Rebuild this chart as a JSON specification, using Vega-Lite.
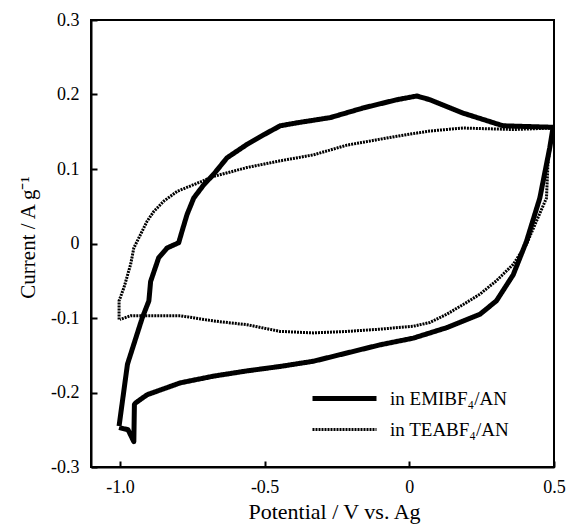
{
  "$schema": "https://vega.github.io/schema/vega-lite/v6.json",
  "width": 463,
  "height": 447,
  "autosize": {"type": "none"},
  "padding": {"left": 91, "top": 20, "right": 12, "bottom": 58},
  "background": "white",
  "config": {
    "view": {"stroke": "black", "strokeWidth": 2},
    "font": "Liberation Serif",
    "axis": {"grid": false, "domainColor": "black", "domainWidth": 2, "tickColor": "black", "tickWidth": 2, "labelColor": "black", "titleColor": "black", "labelFont": "Liberation Serif", "titleFont": "Liberation Serif", "titleFontWeight": "normal"},
    "legend": {"title": null, "orient": "none", "legendX": 243, "legendY": 368, "symbolType": "M-4,0H4", "symbolSize": 256, "rowPadding": 11, "labelFontSize": 19, "labelFont": "Liberation Serif", "labelColor": "black", "labelOffset": 35, "padding": 0}
  },
  "data": {"values": [
    {"s": "in EMIBF₄/AN", "i": 0, "v": -1.003, "c": -0.245},
    {"s": "in EMIBF₄/AN", "i": 1, "v": -0.974, "c": -0.162},
    {"s": "in EMIBF₄/AN", "i": 2, "v": -0.923, "c": -0.100},
    {"s": "in EMIBF₄/AN", "i": 3, "v": -0.900, "c": -0.077},
    {"s": "in EMIBF₄/AN", "i": 4, "v": -0.894, "c": -0.051},
    {"s": "in EMIBF₄/AN", "i": 5, "v": -0.866, "c": -0.019},
    {"s": "in EMIBF₄/AN", "i": 6, "v": -0.837, "c": -0.006},
    {"s": "in EMIBF₄/AN", "i": 7, "v": -0.797, "c": 0.001},
    {"s": "in EMIBF₄/AN", "i": 8, "v": -0.785, "c": 0.017},
    {"s": "in EMIBF₄/AN", "i": 9, "v": -0.768, "c": 0.039},
    {"s": "in EMIBF₄/AN", "i": 10, "v": -0.745, "c": 0.061},
    {"s": "in EMIBF₄/AN", "i": 11, "v": -0.710, "c": 0.079},
    {"s": "in EMIBF₄/AN", "i": 12, "v": -0.676, "c": 0.093},
    {"s": "in EMIBF₄/AN", "i": 13, "v": -0.630, "c": 0.115},
    {"s": "in EMIBF₄/AN", "i": 14, "v": -0.561, "c": 0.133},
    {"s": "in EMIBF₄/AN", "i": 15, "v": -0.503, "c": 0.146},
    {"s": "in EMIBF₄/AN", "i": 16, "v": -0.446, "c": 0.158},
    {"s": "in EMIBF₄/AN", "i": 17, "v": -0.388, "c": 0.162},
    {"s": "in EMIBF₄/AN", "i": 18, "v": -0.273, "c": 0.169},
    {"s": "in EMIBF₄/AN", "i": 19, "v": -0.159, "c": 0.182},
    {"s": "in EMIBF₄/AN", "i": 20, "v": -0.043, "c": 0.193},
    {"s": "in EMIBF₄/AN", "i": 21, "v": 0.026, "c": 0.198},
    {"s": "in EMIBF₄/AN", "i": 22, "v": 0.071, "c": 0.193},
    {"s": "in EMIBF₄/AN", "i": 23, "v": 0.186, "c": 0.175},
    {"s": "in EMIBF₄/AN", "i": 24, "v": 0.324, "c": 0.158},
    {"s": "in EMIBF₄/AN", "i": 25, "v": 0.497, "c": 0.156},
    {"s": "in EMIBF₄/AN", "i": 26, "v": 0.485, "c": 0.128},
    {"s": "in EMIBF₄/AN", "i": 27, "v": 0.451, "c": 0.061},
    {"s": "in EMIBF₄/AN", "i": 28, "v": 0.405, "c": 0.003},
    {"s": "in EMIBF₄/AN", "i": 29, "v": 0.359, "c": -0.042},
    {"s": "in EMIBF₄/AN", "i": 30, "v": 0.301, "c": -0.077},
    {"s": "in EMIBF₄/AN", "i": 31, "v": 0.244, "c": -0.095},
    {"s": "in EMIBF₄/AN", "i": 32, "v": 0.129, "c": -0.113},
    {"s": "in EMIBF₄/AN", "i": 33, "v": 0.014, "c": -0.127},
    {"s": "in EMIBF₄/AN", "i": 34, "v": -0.101, "c": -0.136},
    {"s": "in EMIBF₄/AN", "i": 35, "v": -0.216, "c": -0.147},
    {"s": "in EMIBF₄/AN", "i": 36, "v": -0.331, "c": -0.158},
    {"s": "in EMIBF₄/AN", "i": 37, "v": -0.446, "c": -0.165},
    {"s": "in EMIBF₄/AN", "i": 38, "v": -0.561, "c": -0.171},
    {"s": "in EMIBF₄/AN", "i": 39, "v": -0.676, "c": -0.178},
    {"s": "in EMIBF₄/AN", "i": 40, "v": -0.791, "c": -0.187},
    {"s": "in EMIBF₄/AN", "i": 41, "v": -0.906, "c": -0.203},
    {"s": "in EMIBF₄/AN", "i": 42, "v": -0.946, "c": -0.214},
    {"s": "in EMIBF₄/AN", "i": 43, "v": -0.950, "c": -0.216},
    {"s": "in EMIBF₄/AN", "i": 44, "v": -0.952, "c": -0.266},
    {"s": "in EMIBF₄/AN", "i": 45, "v": -0.972, "c": -0.250},
    {"s": "in EMIBF₄/AN", "i": 46, "v": -1.003, "c": -0.247},
    {"s": "in TEABF₄/AN", "i": 0, "v": -1.003, "c": -0.102},
    {"s": "in TEABF₄/AN", "i": 1, "v": -1.003, "c": -0.077},
    {"s": "in TEABF₄/AN", "i": 2, "v": -0.986, "c": -0.059},
    {"s": "in TEABF₄/AN", "i": 3, "v": -0.963, "c": -0.028},
    {"s": "in TEABF₄/AN", "i": 4, "v": -0.952, "c": -0.006},
    {"s": "in TEABF₄/AN", "i": 5, "v": -0.929, "c": 0.012},
    {"s": "in TEABF₄/AN", "i": 6, "v": -0.906, "c": 0.030},
    {"s": "in TEABF₄/AN", "i": 7, "v": -0.883, "c": 0.043},
    {"s": "in TEABF₄/AN", "i": 8, "v": -0.848, "c": 0.057},
    {"s": "in TEABF₄/AN", "i": 9, "v": -0.802, "c": 0.070},
    {"s": "in TEABF₄/AN", "i": 10, "v": -0.745, "c": 0.079},
    {"s": "in TEABF₄/AN", "i": 11, "v": -0.676, "c": 0.090},
    {"s": "in TEABF₄/AN", "i": 12, "v": -0.561, "c": 0.102},
    {"s": "in TEABF₄/AN", "i": 13, "v": -0.446, "c": 0.111},
    {"s": "in TEABF₄/AN", "i": 14, "v": -0.331, "c": 0.119},
    {"s": "in TEABF₄/AN", "i": 15, "v": -0.216, "c": 0.132},
    {"s": "in TEABF₄/AN", "i": 16, "v": -0.043, "c": 0.144},
    {"s": "in TEABF₄/AN", "i": 17, "v": 0.071, "c": 0.151},
    {"s": "in TEABF₄/AN", "i": 18, "v": 0.186, "c": 0.155},
    {"s": "in TEABF₄/AN", "i": 19, "v": 0.359, "c": 0.153},
    {"s": "in TEABF₄/AN", "i": 20, "v": 0.497, "c": 0.155},
    {"s": "in TEABF₄/AN", "i": 21, "v": 0.491, "c": 0.142},
    {"s": "in TEABF₄/AN", "i": 22, "v": 0.479, "c": 0.106},
    {"s": "in TEABF₄/AN", "i": 23, "v": 0.474, "c": 0.061},
    {"s": "in TEABF₄/AN", "i": 24, "v": 0.405, "c": -0.001},
    {"s": "in TEABF₄/AN", "i": 25, "v": 0.359, "c": -0.028},
    {"s": "in TEABF₄/AN", "i": 26, "v": 0.301, "c": -0.050},
    {"s": "in TEABF₄/AN", "i": 27, "v": 0.244, "c": -0.068},
    {"s": "in TEABF₄/AN", "i": 28, "v": 0.186, "c": -0.082},
    {"s": "in TEABF₄/AN", "i": 29, "v": 0.129, "c": -0.095},
    {"s": "in TEABF₄/AN", "i": 30, "v": 0.071, "c": -0.106},
    {"s": "in TEABF₄/AN", "i": 31, "v": 0.014, "c": -0.111},
    {"s": "in TEABF₄/AN", "i": 32, "v": -0.101, "c": -0.115},
    {"s": "in TEABF₄/AN", "i": 33, "v": -0.216, "c": -0.118},
    {"s": "in TEABF₄/AN", "i": 34, "v": -0.331, "c": -0.120},
    {"s": "in TEABF₄/AN", "i": 35, "v": -0.446, "c": -0.118},
    {"s": "in TEABF₄/AN", "i": 36, "v": -0.561, "c": -0.109},
    {"s": "in TEABF₄/AN", "i": 37, "v": -0.676, "c": -0.104},
    {"s": "in TEABF₄/AN", "i": 38, "v": -0.791, "c": -0.097},
    {"s": "in TEABF₄/AN", "i": 39, "v": -0.906, "c": -0.097},
    {"s": "in TEABF₄/AN", "i": 40, "v": -0.963, "c": -0.097},
    {"s": "in TEABF₄/AN", "i": 41, "v": -1.000, "c": -0.102}
  ]},
  "mark": {"type": "line", "clip": true, "strokeJoin": "round"},
  "encoding": {
    "x": {"field": "v", "type": "quantitative",
      "scale": {"domain": [-1.1, 0.5], "nice": false, "zero": false},
      "axis": {"values": [-1, -0.5, 0, 0.5], "title": "Potential  / V vs. Ag", "tickSize": -6, "labelPadding": 17, "labelFontSize": 18, "titleFontSize": 22, "titlePadding": 5, "titleX": 243,
        "labelExpr": "datum.value == 0 ? '0' : replace(format(datum.value, '.1f'), '−', '-')", "labelFlush": false, "labelOverlap": false}},
    "y": {"field": "c", "type": "quantitative",
      "scale": {"domain": [-0.3, 0.3], "nice": false, "zero": false},
      "axis": {"values": [-0.3, -0.2, -0.1, 0, 0.1, 0.2, 0.3], "title": "Current / A g⁻¹", "tickSize": -6, "labelPadding": 18, "labelFontSize": 18, "titleFontSize": 21, "titlePadding": 12, "titleY": 217,
        "labelExpr": "datum.value == 0 ? '0' : replace(format(datum.value, '.1f'), '−', '-')", "labelFlush": false, "labelOverlap": false}},
    "order": {"field": "i", "type": "quantitative"},
    "color": {"field": "s", "type": "nominal",
      "scale": {"domain": ["in EMIBF₄/AN", "in TEABF₄/AN"], "range": ["black", "black"]}},
    "strokeWidth": {"field": "s", "type": "nominal",
      "scale": {"domain": ["in EMIBF₄/AN", "in TEABF₄/AN"], "range": [5, 3]}},
    "strokeDash": {"field": "s", "type": "nominal",
      "scale": {"domain": ["in EMIBF₄/AN", "in TEABF₄/AN"], "range": [[1, 0], [2, 1]]}}
  }
}
